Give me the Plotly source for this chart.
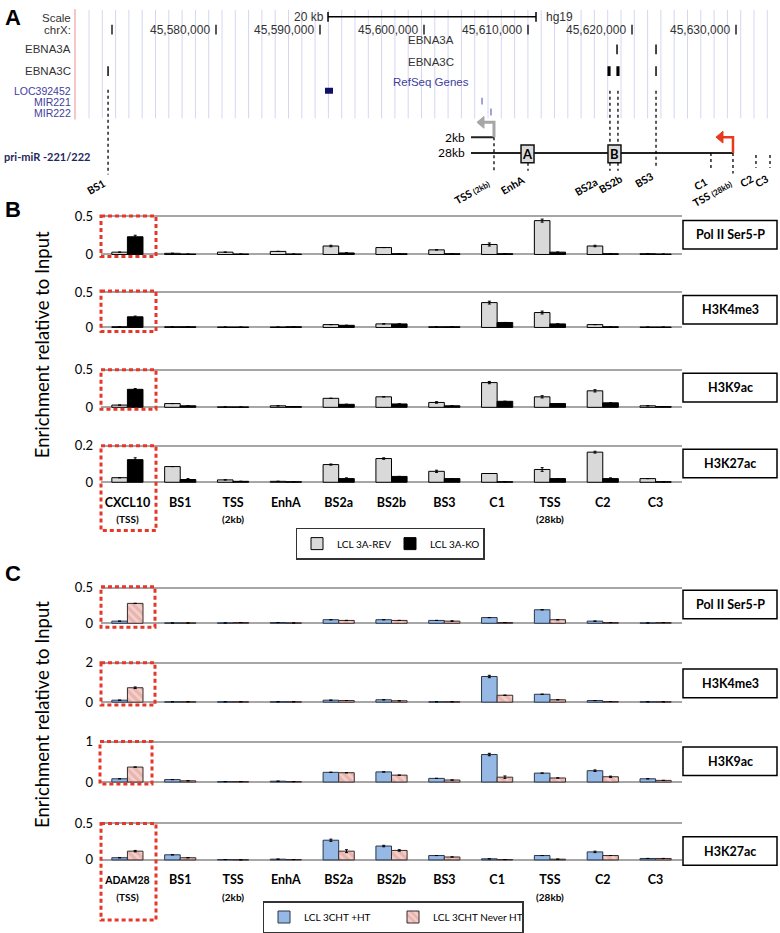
import plotly.graph_objects as go

W, H = 780, 933
FONT = "Lato"
UCSC = "Liberation Sans"


def xp(p):
    return p / W


def yp(p):
    return 1 - p / H


# ---------------- Bar chart data (panels B and C) ----------------
cats_B = ["CXCL10 (TSS)", "BS1", "TSS (2kb)", "EnhA", "BS2a", "BS2b", "BS3", "C1", "TSS (28kb)", "C2", "C3"]
cats_C = ["ADAM28 (TSS)", "BS1", "TSS (2kb)", "EnhA", "BS2a", "BS2b", "BS3", "C1", "TSS (28kb)", "C2", "C3"]
sm = "<span style='font-size:10px'>"
ticks_B = ["<b>CXCL10</b><br><b>" + sm + "(TSS)</span></b>", "<b>BS1</b>", "<b>TSS</b><br><b>" + sm + "(2kb)</span></b>",
           "<b>EnhA</b>", "<b>BS2a</b>", "<b>BS2b</b>", "<b>BS3</b>", "<b>C1</b>",
           "<b>TSS</b><br><b>" + sm + "(28kb)</span></b>", "<b>C2</b>", "<b>C3</b>"]
ticks_C = ["<b><span style='font-size:10.5px'>ADAM28</span></b><br><b>" + sm + "(TSS)</span></b>"] + ticks_B[1:]

series_B = ["LCL 3A-REV", "LCL 3A-KO"]
series_C = ["LCL 3CHT +HT", "LCL 3CHT Never HT"]
marks = ["Pol II Ser5-P", "H3K4me3", "H3K9ac", "H3K27ac"]

B_polII_rev = [0.03, 0.015, 0.03, 0.04, 0.11, 0.09, 0.06, 0.13, 0.44, 0.11, 0.01]
B_polII_ko = [0.23, 0.005, 0.005, 0.005, 0.02, 0.01, 0.01, 0.01, 0.03, 0.01, 0.005]
B_polII_rev_err = [0.0, 0.0, 0.0, 0.0, 0.01, 0.0, 0.0, 0.02, 0.02, 0.01, 0.0]
B_polII_ko_err = [0.02, 0.0, 0.0, 0.0, 0.0, 0.0, 0.0, 0.0, 0.0, 0.0, 0.0]

B_k4_rev = [0.01, 0.01, 0.005, 0.005, 0.04, 0.05, 0.01, 0.35, 0.21, 0.04, 0.005]
B_k4_ko = [0.15, 0.01, 0.005, 0.01, 0.03, 0.05, 0.01, 0.07, 0.05, 0.01, 0.005]
B_k4_rev_err = [0.0, 0.0, 0.0, 0.0, 0.0, 0.0, 0.0, 0.02, 0.02, 0.0, 0.0]
B_k4_ko_err = [0.01, 0.0, 0.0, 0.0, 0.0, 0.0, 0.0, 0.0, 0.0, 0.0, 0.0]

B_k9_rev = [0.03, 0.05, 0.005, 0.02, 0.12, 0.14, 0.065, 0.33, 0.14, 0.22, 0.02]
B_k9_ko = [0.24, 0.02, 0.005, 0.01, 0.04, 0.045, 0.02, 0.08, 0.05, 0.06, 0.01]
B_k9_rev_err = [0.0, 0.0, 0.0, 0.0, 0.0, 0.0, 0.01, 0.015, 0.015, 0.015, 0.0]
B_k9_ko_err = [0.01, 0.0, 0.0, 0.0, 0.0, 0.0, 0.0, 0.0, 0.0, 0.0, 0.0]

B_k27_rev = [0.025, 0.086, 0.013, 0.005, 0.097, 0.13, 0.06, 0.048, 0.07, 0.165, 0.02]
B_k27_ko = [0.124, 0.015, 0.005, 0.003, 0.02, 0.032, 0.02, 0.003, 0.02, 0.02, 0.003]
B_k27_rev_err = [0.0, 0.0, 0.0, 0.0, 0.003, 0.004, 0.006, 0.0, 0.01, 0.005, 0.0]
B_k27_ko_err = [0.01, 0.005, 0.0, 0.0, 0.004, 0.0, 0.0, 0.0, 0.0, 0.004, 0.0]

C_polII_ht = [0.03, 0.005, 0.005, 0.01, 0.05, 0.05, 0.04, 0.08, 0.19, 0.03, 0.005]
C_polII_never = [0.28, 0.005, 0.01, 0.005, 0.04, 0.04, 0.03, 0.01, 0.05, 0.01, 0.01]
C_polII_ht_err = [0.0, 0.0, 0.0, 0.0, 0.0, 0.0, 0.0, 0.0, 0.0, 0.0, 0.0]
C_polII_never_err = [0.0, 0.0, 0.0, 0.0, 0.0, 0.0, 0.005, 0.0, 0.0, 0.0, 0.0]

C_k4_ht = [0.1, 0.02, 0.02, 0.02, 0.1, 0.12, 0.02, 1.3, 0.4, 0.08, 0.02]
C_k4_never = [0.73, 0.02, 0.02, 0.02, 0.08, 0.07, 0.02, 0.35, 0.12, 0.03, 0.02]
C_k4_ht_err = [0.0, 0.0, 0.0, 0.0, 0.0, 0.0, 0.0, 0.06, 0.0, 0.0, 0.0]
C_k4_never_err = [0.04, 0.0, 0.0, 0.0, 0.0, 0.0, 0.0, 0.0, 0.0, 0.0, 0.0]

C_k9_ht = [0.08, 0.06, 0.01, 0.02, 0.24, 0.25, 0.09, 0.68, 0.22, 0.28, 0.08]
C_k9_never = [0.37, 0.03, 0.01, 0.01, 0.23, 0.17, 0.05, 0.12, 0.1, 0.13, 0.04]
C_k9_ht_err = [0.0, 0.0, 0.0, 0.0, 0.0, 0.0, 0.0, 0.03, 0.0, 0.02, 0.0]
C_k9_never_err = [0.0, 0.0, 0.0, 0.0, 0.0, 0.0, 0.0, 0.03, 0.0, 0.015, 0.0]

C_k27_ht = [0.03, 0.07, 0.005, 0.01, 0.27, 0.19, 0.06, 0.015, 0.06, 0.11, 0.02]
C_k27_never = [0.12, 0.03, 0.002, 0.005, 0.12, 0.13, 0.04, 0.005, 0.01, 0.06, 0.02]
C_k27_ht_err = [0.0, 0.0, 0.0, 0.0, 0.015, 0.01, 0.0, 0.0, 0.0, 0.01, 0.0]
C_k27_never_err = [0.01, 0.0, 0.0, 0.0, 0.02, 0.01, 0.0, 0.0, 0.0, 0.0, 0.0]

# ---------------- Genome browser data (panel A) ----------------
chr_ticks = [45570000, 45580000, 45590000, 45600000, 45610000, 45620000, 45630000]
chr_labels = ["", "45,580,000", "45,590,000", "45,600,000", "45,610,000", "45,620,000", "45,630,000"]
scale_start = 45590770
scale_kb = 20000
ebna3a_peaks = [45618560, 45622310]
ebna3a_widths = [140, 140]
ebna3c_peaks = [45569620, 45617790, 45618650, 45622310]
ebna3c_widths = [140, 300, 300, 140]
loc392452 = [45590480, 45591250]
mir221 = 45605580
mir222 = 45606440
site_names = ["BS1", "TSS (2kb)", "EnhA", "BS2a", "BS2b", "BS3", "C1", "TSS (28kb)", "C2", "C3"]
site_pos = [45569620, 45606730, 45610000, 45617880, 45618650, 45622310, 45627590, 45629710, 45631920, 45633270]
tx_start = 45604520
tss_2kb = 45606730
tss_28kb = 45629710
box_A = [45609330, 45610580]
box_B = [45617690, 45618940]

GX0 = 45580000 + (75 - 216) * 10000 / 104
GX1 = 45580000 + (780 - 216) * 10000 / 104
BP_PER_PX = 10000 / 104

fig = go.Figure()
shapes = []
ann = []
layout_axes = {}

# ---------------- Panels B and C ----------------
B_style = [dict(color="#D9D9D9", line=dict(color="#000000", width=1)),
           dict(color="#000000", line=dict(color="#000000", width=1))]
C_style = [dict(color="#95B8E4", line=dict(color="#28374C", width=1)),
           dict(color="#E9B4AE", line=dict(color="#3A2B2B", width=1),
                pattern=dict(shape="\\", fgcolor="#FBEDEB", size=6, solidity=0.45))]

panels = [
    (cats_B, ticks_B, series_B, B_style, [B_polII_rev, B_polII_ko], [B_polII_rev_err, B_polII_ko_err], 214, 253, 0.5, 233, "legend"),
    (cats_B, ticks_B, series_B, B_style, [B_k4_rev, B_k4_ko], [B_k4_rev_err, B_k4_ko_err], 291, 327, 0.5, 309, "legend"),
    (cats_B, ticks_B, series_B, B_style, [B_k9_rev, B_k9_ko], [B_k9_rev_err, B_k9_ko_err], 370, 408, 0.5, 388, "legend"),
    (cats_B, ticks_B, series_B, B_style, [B_k27_rev, B_k27_ko], [B_k27_rev_err, B_k27_ko_err], 447, 484, 0.2, 465, "legend"),
    (cats_C, ticks_C, series_C, C_style, [C_polII_ht, C_polII_never], [C_polII_ht_err, C_polII_never_err], 591, 627, 0.5, 608, "legend2"),
    (cats_C, ticks_C, series_C, C_style, [C_k4_ht, C_k4_never], [C_k4_ht_err, C_k4_never_err], 667, 707, 2, 688, "legend2"),
    (cats_C, ticks_C, series_C, C_style, [C_k9_ht, C_k9_never], [C_k9_ht_err, C_k9_never_err], 747, 788, 1, 767, "legend2"),
    (cats_C, ticks_C, series_C, C_style, [C_k27_ht, C_k27_never], [C_k27_ht_err, C_k27_never_err], 830, 867, 0.5, 858, "legend2"),
]
red_boxes = [(101, 214, 156, 255), (101, 290, 156, 331), (101, 370, 156, 410), (101, 447, 156, 533),
             (101, 590, 155, 631), (101, 667, 155, 710), (100, 747, 152, 790), (101, 830, 156, 928)]

for i, (cats, ticks, names, styles, vals, errs, top_px, zero_px, top_val, box_y, leg) in enumerate(panels):
    n = i + 1
    xa = "x" if n == 1 else f"x{n}"
    ya = "y" if n == 1 else f"y{n}"
    bottom = (i % 4 == 3)
    first = (i % 4 == 0)
    for s in range(2):
        fig.add_trace(go.Bar(
            x=cats, y=vals[s], name=names[s], marker=styles[s],
            error_y=dict(type="data", array=errs[s], color="#000000", thickness=1, width=1.5),
            xaxis=xa, yaxis=ya, showlegend=first, legend=leg, hoverinfo="skip"))
    h = zero_px - top_px
    pad = 3
    layout_axes["xaxis" + ("" if n == 1 else str(n))] = dict(
        domain=[xp(101), xp(682)], anchor=ya, showgrid=False, zeroline=False, showline=False,
        ticks="", showticklabels=bottom, tickmode="array", tickvals=cats, ticktext=ticks,
        categoryorder="array", categoryarray=cats, ticklabelstandoff=8,
        tickfont=dict(family=FONT, size=12.5, color="#000000"))
    layout_axes["yaxis" + ("" if n == 1 else str(n))] = dict(
        domain=[yp(zero_px + pad), yp(top_px - pad)], anchor=xa,
        range=[-top_val * pad / h, top_val * (1 + pad / h)],
        tickmode="array", tickvals=[0, top_val], showgrid=True, gridcolor="#A6A6A6", gridwidth=1.6,
        zeroline=False, showline=False, ticks="", ticklabelstandoff=7,
        tickfont=dict(family=FONT, size=13, color="#000000"))
    shapes.append(dict(type="rect", xref="paper", yref="paper", x0=xp(683), x1=xp(777),
                       y0=yp(box_y + 14.5), y1=yp(box_y - 14.5), fillcolor="white",
                       line=dict(color="#000000", width=1.5)))
    ann.append(dict(x=xp(730), y=yp(box_y), xref="paper", yref="paper", text="<b>" + marks[i % 4] + "</b>",
                    showarrow=False, font=dict(family=FONT, size=12.5, color="#000000"),
                    xanchor="center", yanchor="middle"))

for (x0, y0, x1, y1) in red_boxes:
    shapes.append(dict(type="rect", xref="paper", yref="paper", x0=xp(x0), x1=xp(x1), y0=yp(y0), y1=yp(y1),
                       line=dict(color="#E5372A", width=3, dash="4px,3px"), layer="above"))

for yc in (345, 720):
    ann.append(dict(x=xp(42), y=yp(yc), xref="paper", yref="paper", text="Enrichment relative to Input",
                    textangle=-90, showarrow=False, xanchor="center", yanchor="middle",
                    font=dict(family=FONT, size=18.5, color="#000000")))
for letter, lx, ly in (("A", 3, 13), ("B", 3, 207), ("C", 3, 577)):
    ann.append(dict(x=xp(lx), y=yp(ly), xref="paper", yref="paper", text="<b>" + letter + "</b>",
                    showarrow=False, xanchor="left", yanchor="middle",
                    font=dict(family=UCSC, size=22, color="#000000")))

# ---------------- Panel A (genome browser) ----------------
fig.add_trace(go.Scatter(x=[], y=[], xaxis="x9", yaxis="y9", showlegend=False, hoverinfo="skip"))
layout_axes["xaxis9"] = dict(domain=[xp(75), 1], range=[GX0, GX1], visible=False, anchor="y9")
layout_axes["yaxis9"] = dict(domain=[yp(182), 1], range=[182, 0], visible=False, anchor="x9")

gx = 89.0
while gx < 780:
    shapes.append(dict(type="line", xref="paper", yref="paper", x0=xp(gx), x1=xp(gx), y0=yp(5), y1=yp(115),
                       line=dict(color="#D6D6F2", width=1), layer="below"))
    gx += 13.3
shapes.append(dict(type="line", xref="paper", yref="paper", x0=xp(75), x1=xp(75), y0=yp(4), y1=yp(116),
                   line=dict(color="#F2A0A0", width=1.2)))

gray_txt = "#333333"
blue_txt = "#3E3E9E"
for txt, yy, col, fs in (("Scale", 13, gray_txt, 11.5), ("chrX:", 25, gray_txt, 11.5), ("EBNA3A", 45, gray_txt, 11.5),
                         ("EBNA3C", 67, gray_txt, 11.5), ("LOC392452", 87.5, blue_txt, 10.5), ("MIR221", 98.5, blue_txt, 10.5),
                         ("MIR222", 109.5, blue_txt, 10.5)):
    ann.append(dict(x=xp(73), y=yp(yy), xref="paper", yref="paper", text=txt, showarrow=False,
                    xanchor="right", yanchor="middle", font=dict(family=UCSC, size=fs, color=col)))
for txt, yy, col in (("EBNA3A", 35, gray_txt), ("EBNA3C", 58, gray_txt), ("RefSeq Genes", 78, blue_txt)):
    ann.append(dict(x=45600670, y=yy, xref="x9", yref="y9", text=txt, showarrow=False,
                    xanchor="center", yanchor="middle", font=dict(family=UCSC, size=11.5, color=col)))

s0, s1 = scale_start, scale_start + scale_kb
shapes.append(dict(type="line", xref="x9", yref="y9", x0=s0, x1=s1, y0=12, y1=12, line=dict(color="#000", width=1.5)))
for sx in (s0, s1):
    shapes.append(dict(type="line", xref="x9", yref="y9", x0=sx, x1=sx, y0=7, y1=17, line=dict(color="#000", width=1.5)))
ann.append(dict(x=s0, y=12, xref="x9", yref="y9", text="20 kb", showarrow=False, xanchor="right", xshift=-2,
                yanchor="middle", font=dict(family=UCSC, size=12, color=gray_txt)))
ann.append(dict(x=s1, y=12, xref="x9", yref="y9", text="hg19", showarrow=False, xanchor="left", xshift=8,
                yanchor="middle", font=dict(family=UCSC, size=12, color=gray_txt)))

for t, lab in zip(chr_ticks, chr_labels):
    shapes.append(dict(type="line", xref="x9", yref="y9", x0=t, x1=t, y0=20, y1=30, line=dict(color="#222", width=1.5)))
    if lab:
        ann.append(dict(x=t, y=25, xref="x9", yref="y9", text=lab, showarrow=False, xanchor="right", xshift=-4,
                        yanchor="middle", font=dict(family=UCSC, size=12, color=gray_txt)))

for p, w in zip(ebna3a_peaks, ebna3a_widths):
    shapes.append(dict(type="rect", xref="x9", yref="y9", x0=p - w / 2, x1=p + w / 2, y0=40, y1=50,
                       fillcolor="#000", line=dict(width=0)))
for p, w in zip(ebna3c_peaks, ebna3c_widths):
    shapes.append(dict(type="rect", xref="x9", yref="y9", x0=p - w / 2, x1=p + w / 2, y0=62, y1=72,
                       fillcolor="#000", line=dict(width=0)))
shapes.append(dict(type="rect", xref="x9", yref="y9", x0=loc392452[0], x1=loc392452[1], y0=84, y1=90,
                   fillcolor="#10106A", line=dict(width=0)))
shapes.append(dict(type="rect", xref="x9", yref="y9", x0=mir221 - 50, x1=mir221 + 50, y0=94, y1=101,
                   fillcolor="#5050B0", line=dict(width=0)))
shapes.append(dict(type="rect", xref="x9", yref="y9", x0=mir222 - 50, x1=mir222 + 50, y0=105, y1=112,
                   fillcolor="#5050B0", line=dict(width=0)))

shapes.append(dict(type="line", xref="x9", yref="y9", x0=tx_start, x1=tss_2kb, y0=134, y1=134, line=dict(color="#222", width=2)))
shapes.append(dict(type="line", xref="x9", yref="y9", x0=tx_start, x1=tss_28kb, y0=150, y1=150, line=dict(color="#222", width=2)))
for txt, yy in (("2kb", 134), ("28kb", 150)):
    ann.append(dict(x=tx_start, y=yy, xref="x9", yref="y9", text=txt, showarrow=False, xanchor="right", xshift=-4,
                    yanchor="middle", font=dict(family=FONT, size=12, color="#000")))

site_top = [86, 134, 160, 87, 87, 87, 150, 150, 152, 152]
site_bot = [172, 170, 168, 168, 168, 165, 167, 171, 165, 165]
label_dx = [2, 0, 2, -8, 9, 2, 1, 4, 2, 3]
label_dy = [0, 2, 0, 2, -1, 0, 3, 1, 2, 2]
for p, t0, t1 in zip(site_pos, site_top, site_bot):
    shapes.append(dict(type="line", xref="x9", yref="y9", x0=p, x1=p, y0=t0, y1=t1,
                       line=dict(color="#000", width=1.3, dash="dot")))

g_tip = tss_2kb - 17 * BP_PER_PX
shapes.append(dict(type="path", xref="x9", yref="y9",
                   path=f"M{tss_2kb},134 L{tss_2kb},119 L{g_tip + 5 * BP_PER_PX},119",
                   line=dict(color="#A6A6A6", width=3)))
shapes.append(dict(type="path", xref="x9", yref="y9",
                   path=f"M{g_tip},119 L{g_tip + 7 * BP_PER_PX},113 L{g_tip + 7 * BP_PER_PX},125 Z",
                   fillcolor="#A6A6A6", line=dict(color="#A6A6A6", width=1)))
r_tip = tss_28kb - 17 * BP_PER_PX
shapes.append(dict(type="path", xref="x9", yref="y9",
                   path=f"M{tss_28kb},150 L{tss_28kb},134 L{r_tip + 5 * BP_PER_PX},134",
                   line=dict(color="#E8391E", width=2.5)))
shapes.append(dict(type="path", xref="x9", yref="y9",
                   path=f"M{r_tip},134 L{r_tip + 7 * BP_PER_PX},128 L{r_tip + 7 * BP_PER_PX},140 Z",
                   fillcolor="#E8391E", line=dict(color="#E8391E", width=1)))

for (b0, b1), lab in ((box_A, "A"), (box_B, "B")):
    shapes.append(dict(type="rect", xref="x9", yref="y9", x0=b0, x1=b1, y0=142, y1=160,
                       fillcolor="#DADADA", line=dict(color="#111", width=1.5), layer="above"))
    ann.append(dict(x=(b0 + b1) / 2, y=151, xref="x9", yref="y9", text="<b>" + lab + "</b>", showarrow=False,
                    xanchor="center", yanchor="middle", font=dict(family=FONT, size=13, color="#000")))

for name, p, b, dx, dy in zip(site_names, site_pos, site_bot, label_dx, label_dy):
    if "(" in name:
        a, c = name.split(" ")
        txt = "<b>" + a + " <span style='font-size:8px'>" + c + "</span></b>"
    else:
        txt = "<b>" + name + "</b>"
    ann.append(dict(x=p, y=b, xref="x9", yref="y9", text=txt, showarrow=False, textangle=-30,
                    xanchor="right", yanchor="top", xshift=dx, yshift=-dy,
                    font=dict(family=FONT, size=10.5, color="#000")))

ann.append(dict(x=xp(2), y=yp(154), xref="paper", yref="paper", text="<b>pri-miR -221/222</b>", showarrow=False,
                xanchor="left", yanchor="middle", font=dict(family=FONT, size=11, color="#1F2A5C")))

fig.update_layout(
    width=W, height=H, margin=dict(l=0, r=0, t=0, b=0),
    paper_bgcolor="white", plot_bgcolor="rgba(0,0,0,0)",
    barmode="group", bargap=0.41, bargroupgap=0,
    shapes=shapes, annotations=ann,
    legend=dict(x=xp(390), xanchor="center", y=yp(530), yanchor="top", orientation="h",
                bordercolor="#333", borderwidth=1.5, bgcolor="white", entrywidth=48,
                font=dict(family=FONT, size=10, color="#000"), itemclick=False),
    legend2=dict(x=xp(393), xanchor="center", y=yp(909), yanchor="top", orientation="h",
                 bordercolor="#333", borderwidth=1.5, bgcolor="white", entrywidth=84,
                 font=dict(family=FONT, size=10, color="#000"), itemclick=False),
    **layout_axes,
)

fig.write_html("out.html", config={"displayModeBar": False},
               post_script="document.body.style.margin='0';document.body.style.overflow='hidden';")
